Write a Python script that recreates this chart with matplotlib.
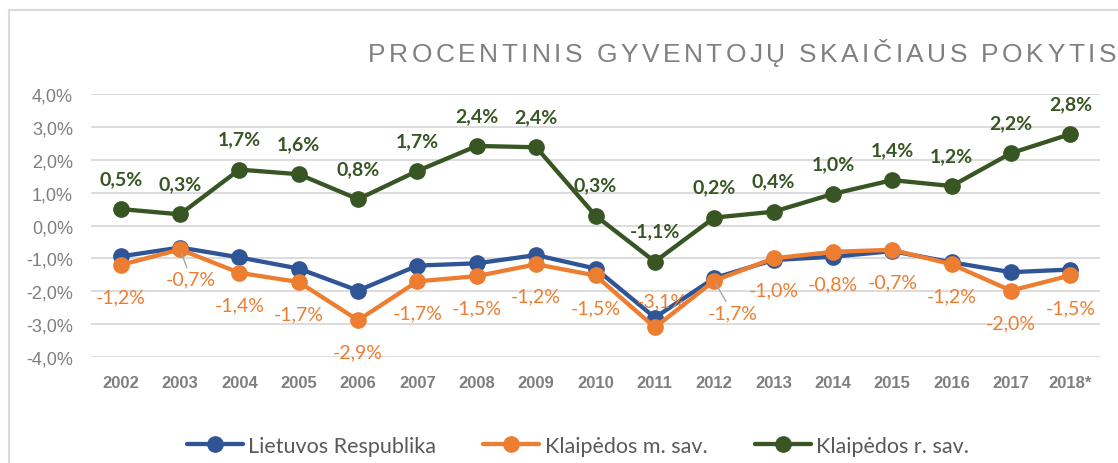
"""
Procentinis gyventojų skaičiaus pokytis (2002-2018)
"""

import matplotlib
matplotlib.use('Agg')
import matplotlib.pyplot as plt
from matplotlib.font_manager import FontProperties
from matplotlib.textpath import TextToPath
from matplotlib.lines import Line2D

W, H = 1118, 464

# Duomenys
metai = ['2002', '2003', '2004', '2005', '2006', '2007', '2008', '2009', '2010',
         '2011', '2012', '2013', '2014', '2015', '2016', '2017', '2018*']
lietuva = [-0.94, -0.67, -0.97, -1.31, -1.98, -1.22, -1.15, -0.90, -1.31,
           -2.80, -1.60, -1.05, -0.95, -0.78, -1.12, -1.42, -1.34]
klaipeda_m = [-1.20, -0.73, -1.44, -1.72, -2.88, -1.70, -1.54, -1.18, -1.52,
              -3.10, -1.68, -1.00, -0.80, -0.74, -1.18, -1.98, -1.52]
klaipeda_r = [0.50, 0.34, 1.70, 1.56, 0.80, 1.66, 2.42, 2.38, 0.30,
              -1.10, 0.24, 0.42, 0.96, 1.38, 1.20, 2.20, 2.78]

pavadinimas = 'PROCENTINIS GYVENTOJŲ SKAIČIAUS POKYTIS'

MELYNA = '#2F5597'
ORANZ = '#ED7D31'
ZALIA = '#375623'
PILKA = '#7F7F7F'
TINKLAS = '#D9D9D9'


def fmt(v):
    return f"{v:.1f}".replace('.', ',') + '%'


def retas_tekstas(fig, text, x0, x1, y, size, color):
    """Pavadinimas su išretintomis raidėmis"""
    prop = FontProperties(family='Liberation Sans', size=size)
    t2p = TextToPath()
    plociai = []
    for ch in text:
        if ch == ' ':
            w = 0.278 * size
        else:
            w, _, _ = t2p.get_text_width_height_descent(ch, prop, ismath=False)
        plociai.append(w * 100 / 72)
    tarpas = ((x1 - x0) - sum(plociai)) / (len(text) - 1)
    x = x0
    for ch, w in zip(text, plociai):
        if ch != ' ':
            fig.text(x / W, 1 - y / H, ch, fontproperties=prop, color=color,
                     ha='left', va='baseline')
        x += w + tarpas


def main():
    fig = plt.figure(figsize=(W / 100, H / 100), dpi=100)
    ax = fig.add_axes([91 / W, 1 - 358 / H, (1100 - 91) / W, (358 - 95) / H])

    x = list(range(len(metai)))
    stilius = dict(lw=3.1, marker='o', markersize=11, solid_capstyle='round')
    ax.plot(x, lietuva, color=MELYNA, label='Lietuvos Respublika', zorder=3, **stilius)
    ax.plot(x, klaipeda_m, color=ORANZ, label='Klaipėdos m. sav.', zorder=4, **stilius)
    ax.plot(x, klaipeda_r, color=ZALIA, label='Klaipėdos r. sav.', zorder=5, **stilius)

    # Duomenų etiketės
    for i, v in enumerate(klaipeda_r):
        ax.annotate(fmt(v), (i, v), xytext=(0, 22), textcoords='offset points',
                    ha='center', va='center', color=ZALIA, fontsize=14,
                    fontweight='bold', family='Lato', zorder=6)

    poslinkiai = {1: (8, -21), 9: (5, 19), 10: (13, -23)}
    for i, v in enumerate(klaipeda_m):
        dx, dy = poslinkiai.get(i, (0, -23))
        rodykle = None
        if i in (1, 10):
            rodykle = dict(arrowstyle='-', color='#A6A6A6', lw=1, shrinkA=0, shrinkB=3)
        ax.annotate(fmt(v), (i, v), xytext=(dx, dy), textcoords='offset points',
                    ha='center', va='center', color=ORANZ, fontsize=14,
                    family='Lato', arrowprops=rodykle, zorder=6)

    ax.set_xlim(-0.5, len(metai) - 0.5)
    ax.set_ylim(-4, 4)
    ax.set_yticks(range(-4, 5))
    ax.set_yticklabels([f"{t},0%" for t in range(-4, 5)])
    ax.set_xticks(x)
    ax.set_xticklabels(metai)
    ax.grid(axis='y', color=TINKLAS, lw=1.3, zorder=0)
    ax.set_axisbelow(True)
    for s in ax.spines.values():
        s.set_visible(False)
    ax.tick_params(axis='y', length=0, pad=13, labelsize=13, labelcolor=PILKA)
    ax.tick_params(axis='x', length=0, pad=13, labelsize=12, labelcolor=PILKA)
    for lbl in ax.get_yticklabels():
        lbl.set_family('Liberation Sans')
    for lbl in ax.get_xticklabels():
        lbl.set_family('Liberation Sans')
        lbl.set_fontweight('bold')

    # Legenda
    fig.legend(loc='center', bbox_to_anchor=(578 / W, 1 - 447 / H), ncol=3,
               frameon=False, prop=FontProperties(family='Lato', size=15.5),
               handlelength=2.6, handletextpad=0.25, columnspacing=2.2,
               labelcolor='#595959')

    # Pavadinimas
    retas_tekstas(fig, pavadinimas, 368, 1116, 62, 19, '#808080')

    # Rėmelis
    fig.add_artist(Line2D([9 / W, 9 / W], [0, 1 - 11 / H], transform=fig.transFigure,
                          color=TINKLAS, lw=1.5))
    fig.add_artist(Line2D([9 / W, 1], [1 - 11 / H, 1 - 11 / H], transform=fig.transFigure,
                          color=TINKLAS, lw=1.5))

    fig.savefig('out.png', dpi=100)
    plt.close(fig)


if __name__ == "__main__":
    main()
